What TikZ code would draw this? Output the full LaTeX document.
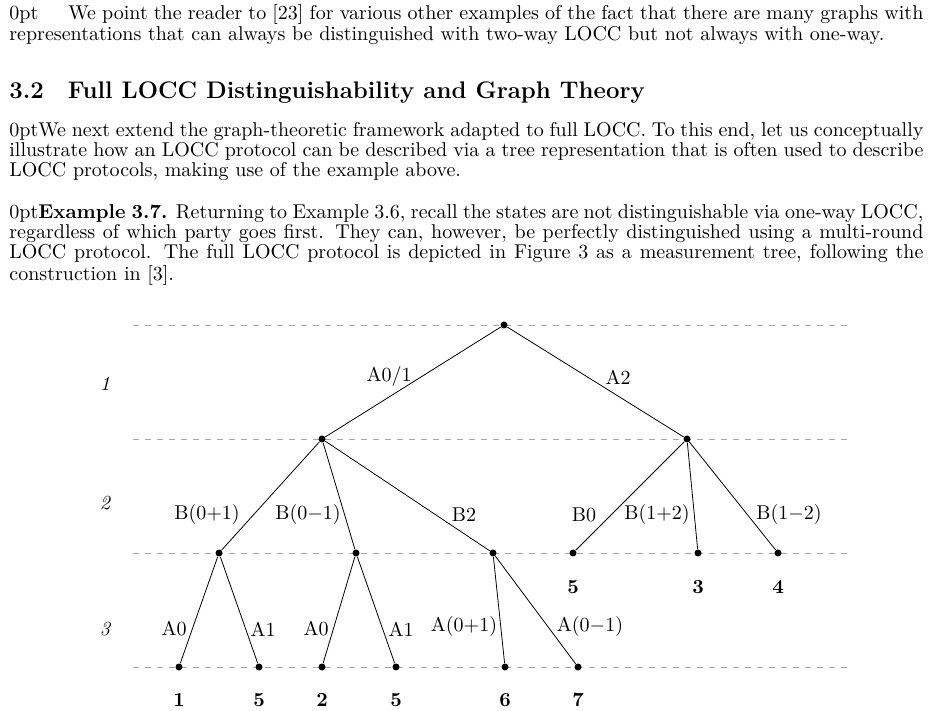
\documentclass[tikz,border=0pt]{standalone}
\begin{document}
\begin{tikzpicture}[x=0.5pt,y=-0.5pt,
  dot/.style={circle,fill=black,inner sep=0pt,minimum size=3.5pt},
  lvl/.style={gray!70,dashed,line width=0.4pt},
  el/.style={font=\normalsize},
  lab/.style={font=\bfseries\normalsize},
  para/.style={anchor=north west,text width=457pt,align=justify,inner sep=0pt,font=\normalsize\baselineskip=12pt}]
\useasboundingbox (0,0) rectangle (933,711);
\node[para] (p1) at (9,4) {\hspace*{15pt}We point the reader to [23] for various other examples of the fact that there are many graphs with\linebreak representations that can always be distinguished with two-way LOCC but not always with one-way.};
\node[anchor=west,inner sep=0pt,font=\large\bfseries] (h) at (9,93) {3.2\hspace{12pt}Full LOCC Distinguishability and Graph Theory};
\node[para] (p2) at (9,122) {We next extend the graph-theoretic framework adapted to full LOCC. To this end, let us conceptually\linebreak illustrate how an LOCC protocol can be described via a tree representation that is often used to describe\linebreak LOCC protocols, making use of the example above.};
\node[para] (p3) at (9,204) {\textbf{Example 3.7.} Returning to Example 3.6, recall the states are not distinguishable via one-way LOCC,\linebreak regardless of which party goes first. They can, however, be perfectly distinguished using a multi-round\linebreak LOCC protocol. The full LOCC protocol is depicted in Figure 3 as a measurement tree, following the\linebreak construction in [3].};
\foreach \y in {325,439,553,667} \draw[lvl] (133,\y) -- (847,\y);
\node[font=\itshape] (l1) at (105,384) {1};
\node[font=\itshape] (l2) at (105,503) {2};
\node[font=\itshape] (l3) at (105,629) {3};
\node[dot] (r) at (504,325) {};
\node[dot] (a) at (322,439) {};
\node[dot] (b) at (687,439) {};
\node[dot] (a1) at (219,553) {};
\node[dot] (a2) at (356,553) {};
\node[dot] (a3) at (493,553) {};
\node[dot] (b1) at (573,553) {};
\node[dot] (b2) at (698,553) {};
\node[dot] (b3) at (778,553) {};
\node[dot] (c1) at (179,667) {};
\node[dot] (c2) at (259,667) {};
\node[dot] (c3) at (322,667) {};
\node[dot] (c4) at (396,667) {};
\node[dot] (c5) at (505,667) {};
\node[dot] (c6) at (578,667) {};
\foreach \u/\v in {r/a,r/b,a/a1,a/a2,a/a3,b/b1,b/b2,b/b3,a1/c1,a1/c2,a2/c3,a2/c4,a3/c5,a3/c6} \draw (\u) -- (\v);
\node[el] (e1) at (389,377) {A0/1};
\node[el] (e2) at (618,377) {A2};
\node[el] (e3) at (207,515) {B(0+1)};
\node[el] (e4) at (308,515) {B(0$-$1)};
\node[el] (e5) at (464,515) {B2};
\node[el] (e6) at (584,515) {B0};
\node[el] (e7) at (657,515) {B(1+2)};
\node[el] (e8) at (789,515) {B(1$-$2)};
\node[el] (e9) at (174,629) {A0};
\node[el] (e10) at (263,629) {A1};
\node[el] (e11) at (316,629) {A0};
\node[el] (e12) at (401,629) {A1};
\node[el] (e13) at (464,627) {A(0+1)};
\node[el] (e14) at (590,627) {A(0$-$1)};
\node[lab] at (573,587) {5};
\node[lab] at (698,587) {3};
\node[lab] at (778,587) {4};
\node[lab] at (179,700) {1};
\node[lab] at (259,700) {5};
\node[lab] at (322,700) {2};
\node[lab] at (396,700) {5};
\node[lab] at (505,700) {6};
\node[lab] at (578,700) {7};
\end{tikzpicture}
\end{document}
